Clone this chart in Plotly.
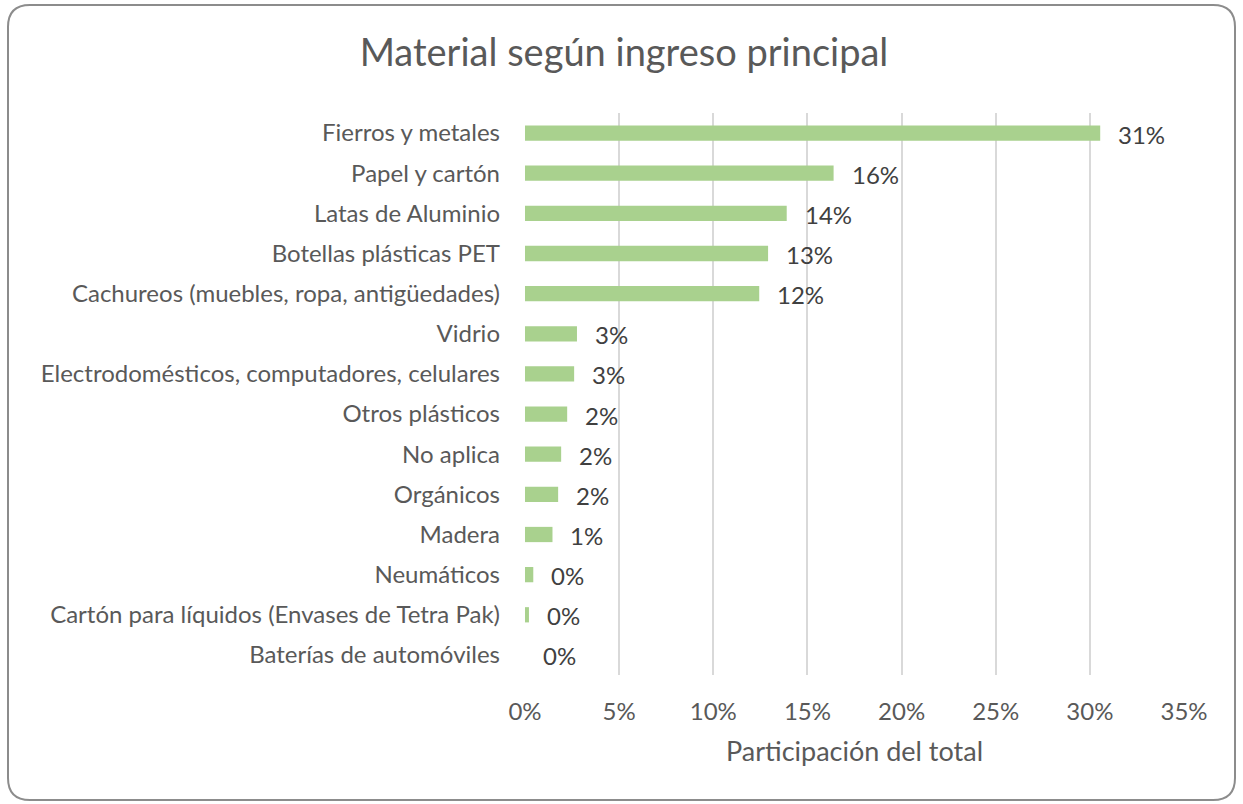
import plotly.graph_objects as go

# Material categories (top to bottom) and their share of the total
categories = [
    "Fierros y metales",
    "Papel y cartón",
    "Latas de Aluminio",
    "Botellas plásticas PET",
    "Cachureos (muebles, ropa, antigüedades)",
    "Vidrio",
    "Electrodomésticos, computadores, celulares",
    "Otros plásticos",
    "No aplica",
    "Orgánicos",
    "Madera",
    "Neumáticos",
    "Cartón para líquidos (Envases de Tetra Pak)",
    "Baterías de automóviles",
]
shares = [0.3055, 0.1639, 0.139, 0.1291, 0.1244, 0.0276, 0.0261, 0.0224,
          0.0192, 0.0176, 0.0146, 0.0044, 0.0021, 0.0]
tick_values = [0, 0.05, 0.10, 0.15, 0.20, 0.25, 0.30, 0.35]
tick_labels = ["0%", "5%", "10%", "15%", "20%", "25%", "30%", "35%"]

W, H = 1243, 804
L, R, T, B = 525, 59, 113, 129
pw, ph = W - L - R, H - T - B
FONT = "Lato"
GREY = "#595959"

fig = go.Figure()
fig.add_trace(go.Bar(
    x=shares, y=categories, orientation="h",
    marker=dict(color="#a9d18e", line=dict(width=0)),
    width=0.38, hoverinfo="x+y",
))

# value labels placed just right of each bar end
for cat, v in zip(categories, shares):
    fig.add_annotation(
        x=v, y=cat, text=f"{v:.0%}", showarrow=False,
        xanchor="left", yanchor="middle", xshift=16, yshift=-1,
        font=dict(family=FONT, size=24, color="#404040"),
    )

# rounded outer frame, expressed in paper coordinates
def px(x):
    return (x - L) / pw

def py(y):
    return (H - B - y) / ph

x0, x1, y0, y1, r = 8, 1235, 5, 800, 22
path = (
    f"M {px(x0 + r)} {py(y0)} L {px(x1 - r)} {py(y0)} "
    f"Q {px(x1)} {py(y0)} {px(x1)} {py(y0 + r)} "
    f"L {px(x1)} {py(y1 - r)} "
    f"Q {px(x1)} {py(y1)} {px(x1 - r)} {py(y1)} "
    f"L {px(x0 + r)} {py(y1)} "
    f"Q {px(x0)} {py(y1)} {px(x0)} {py(y1 - r)} "
    f"L {px(x0)} {py(y0 + r)} "
    f"Q {px(x0)} {py(y0)} {px(x0 + r)} {py(y0)} Z"
)
fig.add_shape(type="path", path=path, xref="paper", yref="paper",
              line=dict(color="#8c8c8c", width=2), fillcolor="rgba(0,0,0,0)",
              layer="above")

fig.update_layout(
    width=W, height=H,
    margin=dict(l=L, r=R, t=T, b=B),
    paper_bgcolor="white", plot_bgcolor="white",
    title=dict(text="Material según ingreso principal", x=624 / W, xref="container",
               xanchor="center", y=1 - 53 / H, yref="container", yanchor="middle",
               font=dict(family=FONT, size=38, color=GREY)),
    showlegend=False,
    font=dict(family=FONT, color=GREY),
    bargap=0.62,
)
fig.update_xaxes(
    range=[0, 0.35], tickvals=tick_values, ticktext=tick_labels,
    showgrid=True, gridcolor="#d9d9d9", gridwidth=1.5,
    zeroline=False, showline=False, ticks="",
    tickfont=dict(family=FONT, size=24, color=GREY),
    ticklabelstandoff=20,
    title=dict(text="Participación del total", standoff=18,
               font=dict(family=FONT, size=27, color=GREY)),
)
fig.update_yaxes(
    categoryorder="array", categoryarray=categories, autorange="reversed",
    showgrid=False, zeroline=False, showline=False, ticks="",
    tickfont=dict(family=FONT, size=24, color=GREY),
    ticklabelstandoff=24,
)

fig.write_html("out.html")
